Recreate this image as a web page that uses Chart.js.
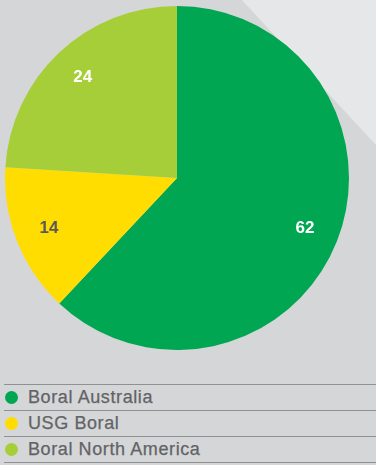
<!DOCTYPE html>
<html>
<head>
<meta charset="utf-8">
<script src="https://cdn.jsdelivr.net/npm/chart.js@4.4.1/dist/chart.umd.min.js"></script>
<style>
  html, body { margin: 0; padding: 0; }
  body {
    width: 376px; height: 465px; overflow: hidden; position: relative;
    background: #d5d6d8;
    font-family: "Liberation Sans", Arial, sans-serif;
  }
  #band {
    position: absolute; left: 0; top: 0; width: 376px; height: 465px;
    background: #e6e7e9;
    clip-path: polygon(242px 0, 376px 0, 376px 145px);
  }
  #wrap { position: absolute; left: 5px; top: 6px; width: 344px; height: 344px; }
  #legend { position: absolute; left: 4px; top: 384px; width: 372px; }
  .row {
    border-top: 1px solid #8f9092; height: 25px; position: relative;
    color: #626365; font-size: 18px; letter-spacing: 0.6px; line-height: 25px;
    -webkit-text-stroke: 0.25px #626365;
  }
  .row:last-child { border-bottom: 1px solid #8f9092; }
  .dot { position: absolute; left: 0.5px; top: 6px; width: 13px; height: 13px; border-radius: 50%; -webkit-text-stroke: 0; }
  .lbl { position: absolute; left: 24px; top: 0; }
</style>
</head>
<body>
<div id="band"></div>
<div id="wrap"><canvas id="pie"></canvas></div>
<div id="legend"></div>
<script>
const segments = ['Boral Australia', 'USG Boral', 'Boral North America'];
const shares = [62, 14, 24];
const colors = ['#00a651', '#ffdd00', '#a6ce39'];
const labelColors = ['#ffffff', '#58595b', '#ffffff'];

// numbers inside the slices
const sliceLabels = {
    id: 'sliceLabels',
    afterDatasetsDraw(chart) {
        const ctx = chart.ctx;
        const meta = chart.getDatasetMeta(0);
        ctx.save();
        ctx.font = 'bold 17px "Liberation Sans", Arial, sans-serif';
        ctx.textAlign = 'center';
        ctx.textBaseline = 'middle';
        meta.data.forEach((arc, i) => {
            const p = arc.getProps(['x', 'y', 'startAngle', 'endAngle', 'outerRadius'], true);
            const mid = (p.startAngle + p.endAngle) / 2;
            const r = p.outerRadius * 0.8;
            ctx.fillStyle = labelColors[i];
            ctx.fillText(String(shares[i]), p.x + Math.cos(mid) * r, p.y + Math.sin(mid) * r);
        });
        ctx.restore();
    }
};

new Chart(document.getElementById('pie'), {
    type: 'pie',
    data: {
        labels: segments,
        datasets: [{
            data: shares,
            backgroundColor: colors,
            borderWidth: 0
        }]
    },
    options: {
        responsive: true,
        maintainAspectRatio: false,
        animation: false,
        layout: { padding: 0 },
        plugins: {
            legend: { display: false },
            tooltip: { enabled: false }
        }
    },
    plugins: [sliceLabels]
});

// legend rows
const legend = document.getElementById('legend');
segments.forEach((name, i) => {
    const row = document.createElement('div');
    row.className = 'row';
    row.innerHTML = '<span class="dot" style="background:' + colors[i] + '"></span><span class="lbl">' + name + '</span>';
    legend.appendChild(row);
});
</script>
</body>
</html>
